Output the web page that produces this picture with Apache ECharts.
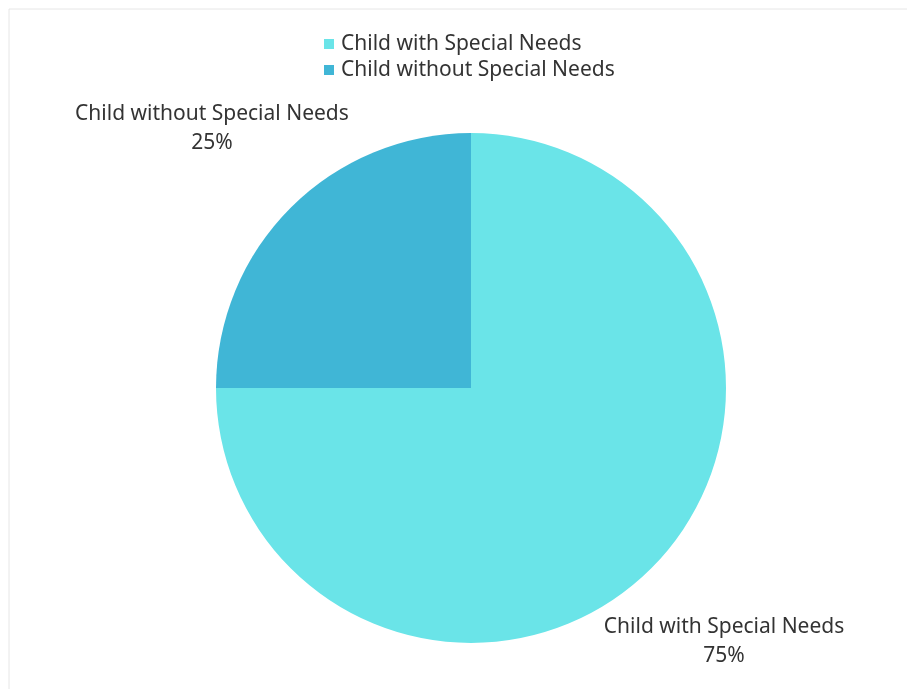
<!DOCTYPE html>
<html>
<head>
<meta charset="utf-8">
<script src="https://cdn.jsdelivr.net/npm/echarts@6/dist/echarts.min.js"></script>
<style>
  html, body { margin: 0; padding: 0; background: #fff; }
  #chart { width: 907px; height: 689px; }
</style>
</head>
<body>
<div id="chart"></div>
<script>
const categories = ["Child with Special Needs", "Child without Special Needs"];
const shares = [75, 25];
const colors = ["#6ae4e8", "#40b6d6"];

const chart = echarts.init(document.getElementById("chart"));

const total = shares.reduce((a, b) => a + b, 0);
// mid angle (deg, math convention) of each slice, start at 12 o'clock, clockwise
const midAngles = [];
let cum = 0;
shares.forEach((v) => {
  midAngles.push(90 - (360 * (cum + v / 2)) / total);
  cum += v;
});

const cx = 471, cy = 388, r = 255;

chart.setOption({
  animation: false,
  color: colors,
  graphic: [
    { type: "line", shape: { x1: 9, y1: 9, x2: 907, y2: 9 }, style: { stroke: "#e6e6e6", lineWidth: 1 } },
    { type: "line", shape: { x1: 9, y1: 9, x2: 9, y2: 689 }, style: { stroke: "#e6e6e6", lineWidth: 1 } },
  ],
  legend: {
    orient: "vertical",
    left: 319,
    top: 28,
    icon: "rect",
    itemWidth: 10,
    itemHeight: 10,
    itemGap: 4,
    textStyle: { color: "#333", fontSize: 21, lineHeight: 22, fontFamily: "Noto Sans", padding: [0, 0, 0, 2] },
    data: categories,
  },
  series: [
    {
      type: "pie",
      center: [cx, cy],
      radius: r,
      startAngle: 90,
      clockwise: true,
      silent: true,
      label: {
        show: true,
        position: "outside",
        formatter: "{b}\n{d}%",
        color: "#333",
        fontSize: 21,
        lineHeight: 29,
        fontFamily: "Noto Sans",
        align: "center",
        overflow: "none",
        width: 320,
      },
      labelLine: { show: false },
      labelLayout: (params) => {
        const a = (midAngles[params.dataIndex] * Math.PI) / 180;
        const d = r * 1.42;
        return {
          x: cx + Math.cos(a) * d - 3,
          y: cy - Math.sin(a) * d - 3,
          align: "center",
          verticalAlign: "middle",
        };
      },
      data: categories.map((name, i) => ({ name, value: shares[i] })),
    },
  ],
});
</script>
</body>
</html>
